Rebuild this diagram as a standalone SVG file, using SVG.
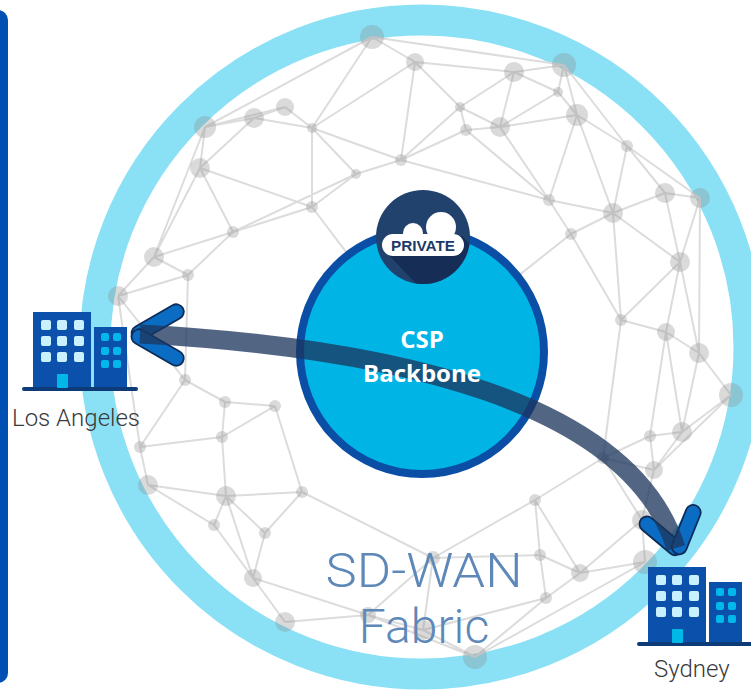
<svg xmlns="http://www.w3.org/2000/svg" width="751" height="692" viewBox="0 0 751 692">
  <style>
    .mesh-line { fill: none; stroke: #dcdcdc; stroke-width: 2; }
    .mesh-node { fill: #8c8c8c; fill-opacity: 0.32; }
    .bldg { fill: #0b51ab; }
    .bldg-base { fill: #0c3b78; }
    .win-big { fill: #c9f1fd; }
    .win-small { fill: #00b9ea; }
    .door { fill: #00b8e8; }
    .site-label { font-family: Roboto, "Liberation Sans", sans-serif; font-weight: 300; font-size: 24px; fill: #3a3a3a; }
    .fabric-label { font-family: Roboto, "Liberation Sans", sans-serif; font-weight: 300; font-size: 48px; fill: #5d88b8; text-anchor: middle; }
    .csp-label { font-family: "Open Sans", "Liberation Sans", sans-serif; font-weight: 700; font-size: 24px; fill: #ffffff; text-anchor: middle; }
    .chev-arm { fill: #0b6cc4; stroke: #0e2c58; stroke-width: 1.8; }
  </style>
  <defs>
    <g id="building">
      <rect class="bldg" x="33" y="312" width="58" height="76"/>
      <rect class="bldg" x="94" y="327" width="33" height="61"/>
      <rect class="bldg-base" x="22" y="387" width="116" height="4" rx="2"/>
      <g class="win-big">
        <rect x="41" y="320" width="10" height="10" rx="2"/>
        <rect x="57" y="320" width="10" height="10" rx="2"/>
        <rect x="74" y="320" width="10" height="10" rx="2"/>
        <rect x="41" y="336" width="10" height="10" rx="2"/>
        <rect x="57" y="336" width="10" height="10" rx="2"/>
        <rect x="74" y="336" width="10" height="10" rx="2"/>
        <rect x="41" y="352" width="10" height="10" rx="2"/>
        <rect x="57" y="352" width="10" height="10" rx="2"/>
        <rect x="74" y="352" width="10" height="10" rx="2"/>
      </g>
      <rect class="door" x="57" y="374" width="11" height="14" rx="1"/>
      <g class="win-small">
        <rect x="101" y="333" width="8" height="8" rx="2"/>
        <rect x="113" y="333" width="8" height="8" rx="2"/>
        <rect x="101" y="347" width="8" height="8" rx="2"/>
        <rect x="113" y="347" width="8" height="8" rx="2"/>
        <rect x="101" y="360" width="8" height="8" rx="2"/>
        <rect x="113" y="360" width="8" height="8" rx="2"/>
      </g>
    </g>
    <clipPath id="privateClip">
      <circle cx="423" cy="237" r="47"/>
    </clipPath>
  </defs>

  <!-- left side bar -->
  <rect id="side-bar" x="-20" y="10" width="28" height="673" rx="10" fill="#0050b4"/>

  <!-- outer fabric ring -->
  <circle id="fabric-ring" cx="422" cy="347" r="327" fill="none" stroke="#8ae0f5" stroke-width="31"/>

  <!-- mesh of the SD-WAN fabric -->
  <g id="mesh">
    <path class="mesh-line" d="M372,37L415,62M372,37L564,65M372,37L205,127M372,37L312,128M415,62L401,160M415,62L312,128M415,62L460,107M415,62L514,72M514,72L564,65M514,72L460,107M514,72L500,127M514,72L558,92M564,65L558,92M564,65L577,115M564,65L627,146M558,92L577,115M558,92L500,127M577,115L627,146M577,115L500,127M577,115L549,200M577,115L613,213M627,146L665,193M627,146L700,198M627,146L613,213M665,193L700,198M665,193L613,213M665,193L680,262M700,198L680,262M700,198L699,353M285,107L254,118M285,107L312,128M285,107L205,127M254,118L205,127M254,118L200,168M254,118L312,128M205,127L200,168M205,127L154,257M312,128L356,174M312,128L401,160M312,128L312,207M460,107L466,130M460,107L401,160M460,107L500,127M500,127L466,130M500,127L549,200M401,160L356,174M401,160L466,130M401,160L549,200M356,174L312,207M356,174L233,232M200,168L233,232M200,168L154,257M200,168L312,207M312,207L233,232M312,207L422,352M233,232L188,275M233,232L154,257M188,275L154,257M188,275L118,296M188,275L185,380M154,257L118,296M118,296L185,380M118,296L140,447M549,200L571,234M549,200L613,213M549,200L466,130M613,213L571,234M613,213L680,262M613,213L621,320M571,234L621,320M571,234L422,352M680,262L666,332M680,262L699,353M680,262L621,320M621,320L666,332M621,320L603,458M666,332L699,353M666,332L682,432M666,332L650,436M699,353L731,395M699,353L682,432M731,395L682,432M731,395L654,470M682,432L650,436M682,432L654,470M650,436L603,458M650,436L654,470M654,470L642,520M654,470L603,458M603,458L535,500M603,458L642,520M535,500L540,555M535,500L433,558M535,500L580,573M580,573L642,520M580,573L645,562M580,573L546,598M580,573L540,555M642,520L645,562M645,562L475,657M546,598L475,657M546,598L423,630M546,598L540,555M475,657L423,630M475,657L368,615M423,630L368,615M423,630L433,558M368,615L433,558M368,615L285,622M368,615L253,578M433,558L302,492M433,558L540,555M285,622L253,578M253,578L214,525M253,578L265,533M253,578L226,496M214,525L148,485M214,525L226,496M148,485L140,447M148,485L226,496M140,447L222,437M140,447L185,380M226,496L222,437M226,496L302,492M226,496L265,533M222,437L225,402M222,437L275,406M225,402L185,380M225,402L275,406M275,406L302,492M302,492L265,533"/>
    <g class="mesh-node">
      <circle cx="372" cy="37" r="12"/>
      <circle cx="415" cy="62" r="9"/>
      <circle cx="514" cy="72" r="10"/>
      <circle cx="564" cy="65" r="12"/>
      <circle cx="558" cy="92" r="5"/>
      <circle cx="577" cy="115" r="11"/>
      <circle cx="627" cy="146" r="6"/>
      <circle cx="665" cy="193" r="10"/>
      <circle cx="700" cy="198" r="10"/>
      <circle cx="285" cy="107" r="9"/>
      <circle cx="254" cy="118" r="10"/>
      <circle cx="205" cy="127" r="11"/>
      <circle cx="312" cy="128" r="5"/>
      <circle cx="460" cy="107" r="5"/>
      <circle cx="500" cy="127" r="10"/>
      <circle cx="401" cy="160" r="6"/>
      <circle cx="356" cy="174" r="5"/>
      <circle cx="200" cy="168" r="10"/>
      <circle cx="312" cy="207" r="6"/>
      <circle cx="233" cy="232" r="6"/>
      <circle cx="188" cy="275" r="6"/>
      <circle cx="154" cy="257" r="10"/>
      <circle cx="118" cy="296" r="10"/>
      <circle cx="549" cy="200" r="6"/>
      <circle cx="613" cy="213" r="10"/>
      <circle cx="571" cy="234" r="6"/>
      <circle cx="680" cy="262" r="10"/>
      <circle cx="621" cy="320" r="6"/>
      <circle cx="666" cy="332" r="9"/>
      <circle cx="699" cy="353" r="10"/>
      <circle cx="731" cy="395" r="12"/>
      <circle cx="682" cy="432" r="10"/>
      <circle cx="650" cy="436" r="6"/>
      <circle cx="654" cy="470" r="9"/>
      <circle cx="603" cy="458" r="6"/>
      <circle cx="535" cy="500" r="6"/>
      <circle cx="580" cy="573" r="9"/>
      <circle cx="642" cy="520" r="10"/>
      <circle cx="645" cy="562" r="12"/>
      <circle cx="546" cy="598" r="6"/>
      <circle cx="475" cy="657" r="12"/>
      <circle cx="423" cy="630" r="10"/>
      <circle cx="368" cy="615" r="8"/>
      <circle cx="433" cy="558" r="7"/>
      <circle cx="285" cy="622" r="10"/>
      <circle cx="253" cy="578" r="9"/>
      <circle cx="214" cy="525" r="6"/>
      <circle cx="148" cy="485" r="10"/>
      <circle cx="140" cy="447" r="6"/>
      <circle cx="226" cy="496" r="10"/>
      <circle cx="222" cy="437" r="6"/>
      <circle cx="225" cy="402" r="6"/>
      <circle cx="185" cy="380" r="6"/>
      <circle cx="275" cy="406" r="6"/>
      <circle cx="302" cy="492" r="6"/>
      <circle cx="265" cy="533" r="6"/>
      <circle cx="466" cy="130" r="6"/>
      <circle cx="540" cy="555" r="6"/>
    </g>
  </g>

  <!-- CSP backbone disc (label drawn above the connector) -->
  <g id="csp-backbone">
    <circle cx="422" cy="352" r="122" fill="#00b5e6" stroke="#0b4ea6" stroke-width="8"/>
  </g>

  <!-- private cloud badge -->
  <g id="private-cloud">
    <circle cx="423" cy="237" r="47" fill="#22426e"/>
    <polygon clip-path="url(#privateClip)" points="384,250 462,236 540,320 460,330" fill="#162d55"/>
    <g fill="#ffffff">
      <circle cx="441" cy="227" r="15"/>
      <circle cx="413" cy="233" r="10"/>
      <rect x="382" y="234" width="82" height="22" rx="11"/>
    </g>
    <text x="423" y="251" font-family="'Liberation Sans', Arial, sans-serif" font-weight="700" font-size="15" fill="#1c3a66" text-anchor="middle" textLength="64" lengthAdjust="spacingAndGlyphs">PRIVATE</text>
  </g>

  <!-- fabric caption -->
  <g id="fabric-caption">
    <text class="fabric-label" x="424" y="587" textLength="197" lengthAdjust="spacingAndGlyphs">SD-WAN</text>
    <text class="fabric-label" x="424" y="643">Fabric</text>
  </g>

  <!-- connector: Los Angeles to Sydney through the backbone -->
  <g id="connectors">
    <g id="chevron-la" transform="translate(136,335)">
      <rect class="chev-arm" x="-4" y="-7.5" width="58" height="15" rx="7.5" transform="rotate(-30)"/>
      <rect class="chev-arm" x="-4" y="-7.5" width="58" height="15" rx="7.5" transform="rotate(30)"/>
    </g>
    <g id="chevron-syd" transform="translate(678,550)">
      <rect class="chev-arm" x="-4" y="-7.5" width="52" height="15" rx="7.5" transform="rotate(-140)"/>
      <rect class="chev-arm" x="-4" y="-7.5" width="52" height="15" rx="7.5" transform="rotate(-68)"/>
    </g>
    <path d="M140,334 C400,348 630,403 676,548" fill="none" stroke="#1b365d" stroke-opacity="0.76" stroke-width="19"/>
  </g>

  <!-- backbone label -->
  <g id="csp-label">
    <text class="csp-label" x="422" y="348">CSP</text>
    <text class="csp-label" x="422" y="382">Backbone</text>
  </g>

  <!-- sites -->
  <g id="site-los-angeles">
    <use href="#building"/>
    <text class="site-label" x="12" y="426">Los Angeles</text>
  </g>
  <g id="site-sydney">
    <use href="#building" transform="translate(615,255)"/>
    <text class="site-label" x="654" y="677">Sydney</text>
  </g>
</svg>
